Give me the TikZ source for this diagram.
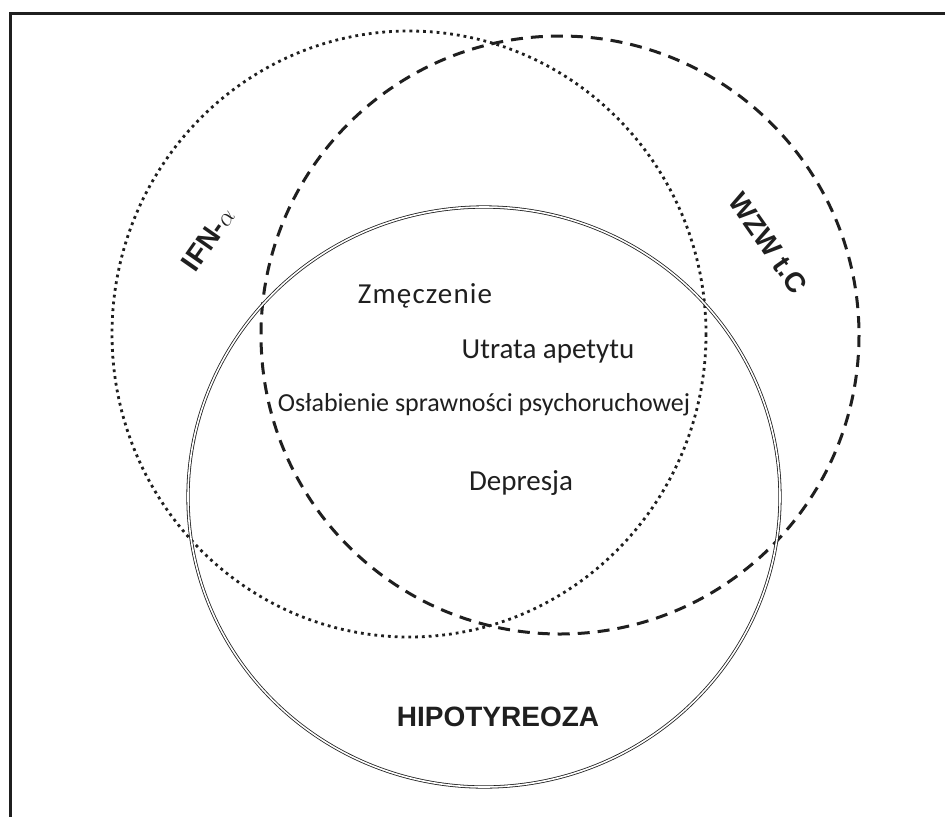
\documentclass[tikz,border=0pt]{standalone}
\usepackage{fontspec}
\newfontfamily\labelfont{Liberation Sans}
\newfontfamily\itemfont{Carlito}
\begin{document}
\begin{tikzpicture}[x=1pt,y=-1pt,
  ink/.style={draw=black!88},
  frameline/.style={ink, line width=3pt},
  ifnset/.style={ink, line width=2.8pt, dash pattern=on 2.8pt off 4pt},
  wzwset/.style={ink, line width=3pt, dash pattern=on 12pt off 8pt},
  hiposet/.style={ink, line width=0.8pt, double=white, double distance=1.6pt},
  setname/.style={font=\labelfont\bfseries\fontsize{28}{30}\selectfont, text=black!88, inner sep=0pt},
  symptom/.style={font=\itemfont\fontsize{29}{32}\selectfont, text=black!88, inner sep=0pt},
  smallsymptom/.style={font=\itemfont\fontsize{26}{28}\selectfont, text=black!88, inner sep=0pt}
]
\useasboundingbox (0,0) rectangle (945,817);

% open frame: top and left edges only
\coordinate (fTR) at (945,13.5);
\coordinate (fTL) at (10.5,13.5);
\coordinate (fBL) at (10.5,817);
\draw[frameline] (fTR) -- (fTL) -- (fBL);

% the three sets
\coordinate (cIFN) at (409,334);
\coordinate (cWZW) at (560,335);
\coordinate (cHIPO) at (484,497);
\draw[ifnset] (cIFN) ellipse [x radius=297, y radius=303];
\draw[wzwset] (cWZW) circle (299);
\draw[hiposet] (cHIPO) ellipse [x radius=296, y radius=290];

% set names
\node[setname, rotate=55] (ifn) at (208,239) {IFN-$\alpha$};
\node[setname, rotate=-55] (wzw) at (768,243) {WZW t.C};
\node[setname] (hipo) at (498,717) {HIPOTYREOZA};

% common symptoms
\node[symptom, font=\itemfont\addfontfeature{LetterSpace=4}\fontsize{29}{32}\selectfont] (zm) at (425,296) {Zmęczenie};
\node[symptom] (ua) at (548,352) {Utrata apetytu};
\node[smallsymptom] (os) at (484,405) {Osłabienie sprawności psychoruchowej};
\node[symptom] (dep) at (521,483) {Depresja};
\end{tikzpicture}
\end{document}
